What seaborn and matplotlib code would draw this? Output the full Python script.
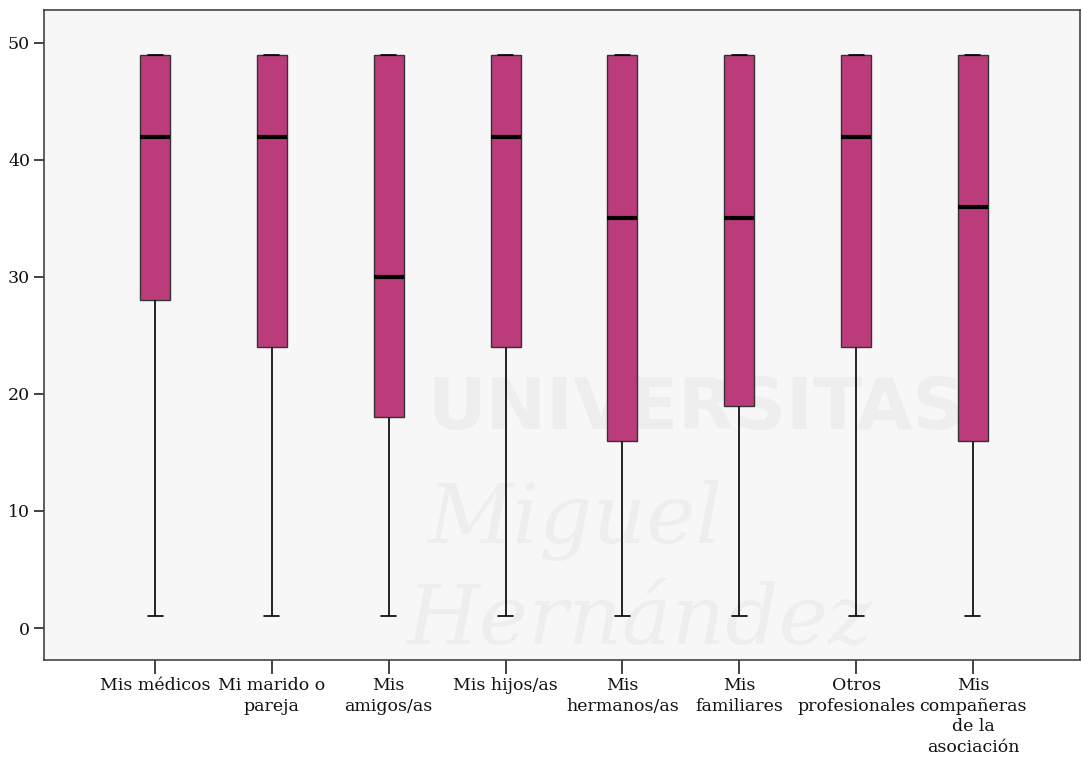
import numpy as np
import pandas as pd
import seaborn as sns
import matplotlib
matplotlib.use("Agg")
import matplotlib.pyplot as plt

categories = ["Mis médicos", "Mi marido o\npareja", "Mis\namigos/as", "Mis hijos/as",
              "Mis\nhermanos/as", "Mis\nfamiliares", "Otros\nprofesionales",
              "Mis\ncompañeras\nde la\nasociación"]
mins    = [1, 1, 1, 1, 1, 1, 1, 1]
q1s     = [28, 24, 18, 24, 16, 19, 24, 16]
medians = [42, 42, 30, 42, 35, 35, 42, 36]
q3s     = [49, 49, 49, 49, 49, 49, 49, 49]
maxs    = [49, 49, 49, 49, 49, 49, 49, 49]
yticks  = [0, 10, 20, 30, 40, 50]

rows = []
for c, a, b, m, d, e in zip(categories, mins, q1s, medians, q3s, maxs):
    for v in (a, b, m, d, e):
        rows.append({"cat": c, "val": v})
df = pd.DataFrame(rows)

sns.set_style("white")
plt.rcParams["font.family"] = ["DejaVu Serif"]

fig = plt.figure(figsize=(10.82, 7.62), dpi=100)
ax = fig.add_axes([44/1082, 1-660/762, (1080-44)/1082, (660-10)/762])
ax.set_facecolor("#f7f7f7")

# faint watermark
wm = "#eeeeee"
ax.text(0.37, 0.385, "UNIVERSITAS", transform=ax.transAxes, fontsize=52, fontweight="bold",
        family="DejaVu Sans", color=wm, ha="left", va="center", zorder=0)
ax.text(0.37, 0.215, "Miguel", transform=ax.transAxes, fontsize=60, style="italic",
        family="DejaVu Serif", color=wm, ha="left", va="center", zorder=0)
ax.text(0.35, 0.06, "Hernández", transform=ax.transAxes, fontsize=60, style="italic",
        family="DejaVu Serif", color=wm, ha="left", va="center", zorder=0)

sns.boxplot(data=df, x="cat", y="val", order=categories, whis=np.inf, width=0.257,
            color="#bb3b7b", saturation=1, linewidth=1, linecolor="#333333",
            medianprops={"color": "black", "linewidth": 3},
            whiskerprops={"color": "black", "linewidth": 1.2},
            capprops={"color": "black", "linewidth": 1.2},
            boxprops={"edgecolor": "#333333", "linewidth": 1},
            ax=ax, zorder=3)

ax.set_xlim(-0.95, 7.916)
ax.set_ylim(-2.735, 52.82)
ax.set_yticks(yticks)
ax.set_yticklabels([str(t) for t in yticks])
ax.set_xlabel("")
ax.set_ylabel("")
for s in ax.spines.values():
    s.set_color("#444444")
    s.set_linewidth(1.2)
ax.tick_params(axis="y", left=True, direction="out", length=7, width=1.2, color="#222222",
               labelsize=12.5, labelcolor="#111111", pad=3)
ax.tick_params(axis="x", bottom=True, direction="out", length=10, width=1.2, color="#222222",
               labelsize=12.5, labelcolor="#111111", pad=2)
for lab in ax.get_xticklabels():
    lab.set_linespacing(1.3)
ax.grid(False)

fig.savefig("out.png", dpi=100)
